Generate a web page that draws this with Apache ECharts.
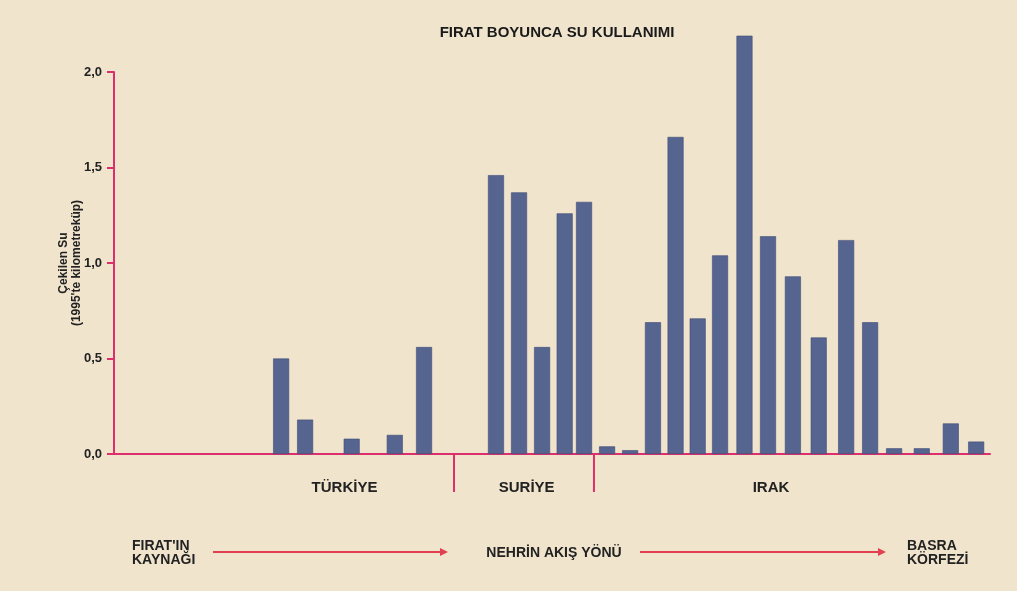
<!DOCTYPE html>
<html>
<head>
<meta charset="utf-8">
<script src="https://cdn.jsdelivr.net/npm/echarts@6/dist/echarts.min.js"></script>
<style>
  html, body { margin: 0; padding: 0; background: #f1e5cf; }
  #chart { width: 1017px; height: 591px; }
</style>
</head>
<body>
<div id="chart"></div>
<script>
// position of each withdrawal point along the river (source -> gulf), in river units
const riverPos = [7.25, 8.29, 10.31, 12.18, 13.45,
  16.57, 17.57, 18.57, 19.55, 20.39,
  21.39, 22.39, 23.38, 24.36, 25.32, 26.29, 27.35, 28.37, 29.45, 30.57, 31.76, 32.80, 33.84, 35.04, 36.30, 37.40];
// withdrawn water, km3 in 1995
const withdrawn = [0.50, 0.18, 0.08, 0.10, 0.56,
  1.46, 1.37, 0.56, 1.26, 1.32,
  0.04, 0.02, 0.69, 1.66, 0.71, 1.04, 2.19, 1.14, 0.93, 0.61, 1.12, 0.69, 0.03, 0.03, 0.16, 0.065];
const countries = ['TÜRKİYE', 'SURİYE', 'IRAK'];
const countryLabelPos = [10.0, 17.9, 28.5];
const borders = [14.75, 20.82];
const yTicks = [0, 0.5, 1.0, 1.5, 2.0];

const pink = '#dc2f6c';
const arrowRed = '#e2404f';
const barColor = '#56658f';
const font = 'Arial, "Liberation Sans", sans-serif';

const chart = echarts.init(document.getElementById('chart'));

const option = {
  backgroundColor: '#f0e4cd',
  animation: false,
  title: {
    text: 'FIRAT BOYUNCA SU KULLANIMI',
    left: 552, top: 20, textAlign: 'center',
    textStyle: { fontFamily: font, fontSize: 15, fontWeight: 'bold', color: '#1a1a1a' }
  },
  grid: { left: 114, right: 27, top: 72, bottom: 137 },
  xAxis: {
    type: 'value', min: 0, max: 38,
    axisLine: { show: true, onZero: true, lineStyle: { color: pink, width: 2 } },
    axisTick: { show: false },
    axisLabel: { show: false },
    splitLine: { show: false }
  },
  yAxis: {
    type: 'value', min: yTicks[0], max: yTicks[yTicks.length - 1], interval: 0.5,
    name: 'Çekilen Su\n(1995\'te kilometreküp)',
    nameLocation: 'middle', nameRotate: 90, nameGap: 31, nameMoveOverlap: false,
    nameTextStyle: { fontFamily: font, fontSize: 12, fontWeight: 'bold', color: '#222', lineHeight: 13 },
    axisLine: { show: true, lineStyle: { color: pink, width: 2 } },
    axisTick: { show: true, length: 7, lineStyle: { color: pink, width: 2 } },
    axisLabel: {
      margin: 12, fontFamily: font, fontSize: 13, fontWeight: 'bold', color: '#222',
      formatter: v => v.toFixed(1).replace('.', ',')
    },
    splitLine: { show: false }
  },
  series: [{
    type: 'bar',
    clip: false,
    barWidth: 16,
    data: riverPos.map((p, i) => [p, withdrawn[i]]),
    itemStyle: { color: barColor, borderColor: '#3f4c78', borderWidth: 0.6 }
  }]
};
chart.setOption(option);

// decorations placed through the axes' own scales
const baseY = chart.convertToPixel({ gridIndex: 0 }, [0, 0])[1];
const graphics = [];
borders.forEach(b => {
  const x = chart.convertToPixel({ gridIndex: 0 }, [b, 0])[0];
  graphics.push({ type: 'line', shape: { x1: x, y1: baseY, x2: x, y2: baseY + 38 },
    style: { stroke: pink, lineWidth: 2 } });
});
countries.forEach((c, i) => {
  const x = chart.convertToPixel({ gridIndex: 0 }, [countryLabelPos[i], 0])[0];
  graphics.push({ type: 'text', x: x, y: baseY + 34,
    style: { text: c, fontFamily: font, fontSize: 15, fontWeight: 'bold', fill: '#222',
      align: 'center', verticalAlign: 'middle' } });
});

function arrow(x1, x2, y) {
  graphics.push({ type: 'line', shape: { x1: x1, y1: y, x2: x2 - 6, y2: y },
    style: { stroke: arrowRed, lineWidth: 2 } });
  graphics.push({ type: 'polygon', shape: { points: [[x2 - 8, y - 4], [x2, y], [x2 - 8, y + 4]] },
    style: { fill: arrowRed } });
}
const flowY = 553;
const txt = (s, x, y, align) => graphics.push({ type: 'text', x: x, y: y,
  style: { text: s, fontFamily: font, fontSize: 14, fontWeight: 'bold', fill: '#222',
    align: align, verticalAlign: 'middle', lineHeight: 14 } });
txt('FIRAT\'IN\nKAYNAĞI', 132, flowY, 'left');
arrow(213, 448, flowY - 1);
txt('NEHRİN AKIŞ YÖNÜ', 554, flowY, 'center');
arrow(640, 886, flowY - 1);
txt('BASRA\nKÖRFEZİ', 907, flowY, 'left');

chart.setOption({ graphic: graphics });
</script>
</body>
</html>
